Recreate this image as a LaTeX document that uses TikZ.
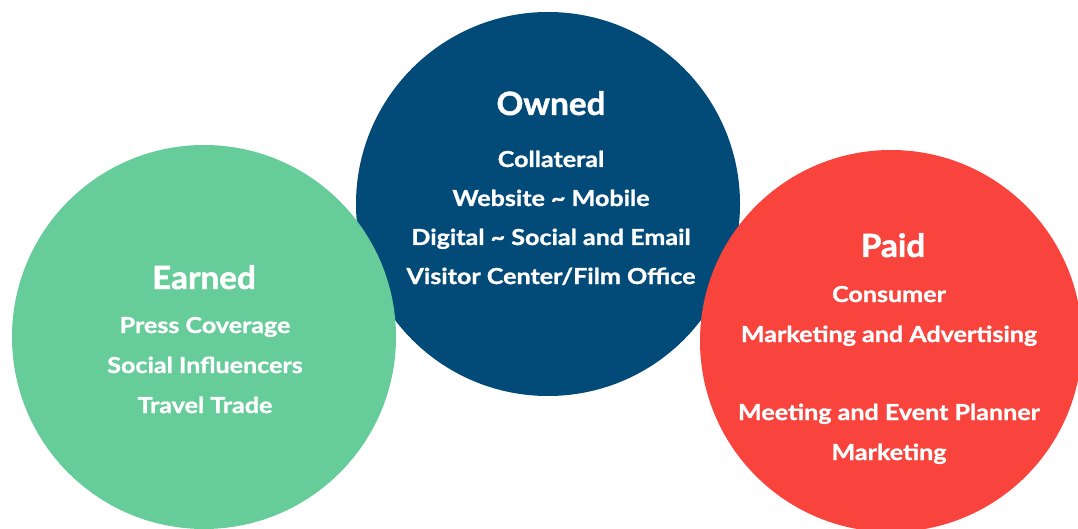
\documentclass[tikz,border=0pt]{standalone}
\usepackage{fontspec}
\setmainfont{Lato}
\newfontfamily\itemfont{Lato}[FakeStretch=1.14,FakeBold=1.2]
\newfontfamily\titlefont{Lato}[FakeStretch=1.04,FakeBold=1.5]
\definecolor{cgreen}{HTML}{66CC99}
\definecolor{cblue}{HTML}{024A77}
\definecolor{cred}{HTML}{F9443D}
\begin{document}
\begin{tikzpicture}[x=1pt,y=-1pt,
  title/.style={text=white,anchor=base,inner sep=0pt,font=\titlefont\fontsize{32}{36}\selectfont\bfseries},
  item/.style={text=white,anchor=base,inner sep=0pt,font=\itemfont\fontsize{22}{26}\selectfont\bfseries},
  disc/.style={circle,inner sep=0pt,minimum size=384pt}]
\useasboundingbox (0,0) rectangle (1078,529);
\clip (0,0) rectangle (1078,529);
\node[disc,fill=cblue] (owned) at (548,204) {};
\node[disc,fill=cgreen] (earned) at (204,337) {};
\node[disc,fill=cred,minimum size=382pt] (paid) at (891,341) {};
% Owned
\node[title] (ot) at (551,115) {Owned};
\node[item] (o1) at (551,167) {Collateral};
\node[item] (o2) at (551,206) {Website \textasciitilde{} Mobile};
\node[item] (o3) at (551,245) {Digital \textasciitilde{} Social and Email};
\node[item] (o4) at (551,284) {Visitor Center/Film Office};
% Earned
\node[title] (et) at (204,289) {Earned};
\node[item] (e1) at (205,333) {Press Coverage};
\node[item] (e2) at (205,373) {Social Influencers};
\node[item] (e3) at (205,413) {Travel Trade};
% Paid
\node[title] (pt) at (893,257) {Paid};
\node[item] (p1) at (889,302) {Consumer};
\node[item] (p2) at (889,342) {Marketing and Advertising};
\node[item] (p3) at (889,420) {Meeting and Event Planner};
\node[item] (p4) at (889,460) {Marketing};
\end{tikzpicture}
\end{document}
